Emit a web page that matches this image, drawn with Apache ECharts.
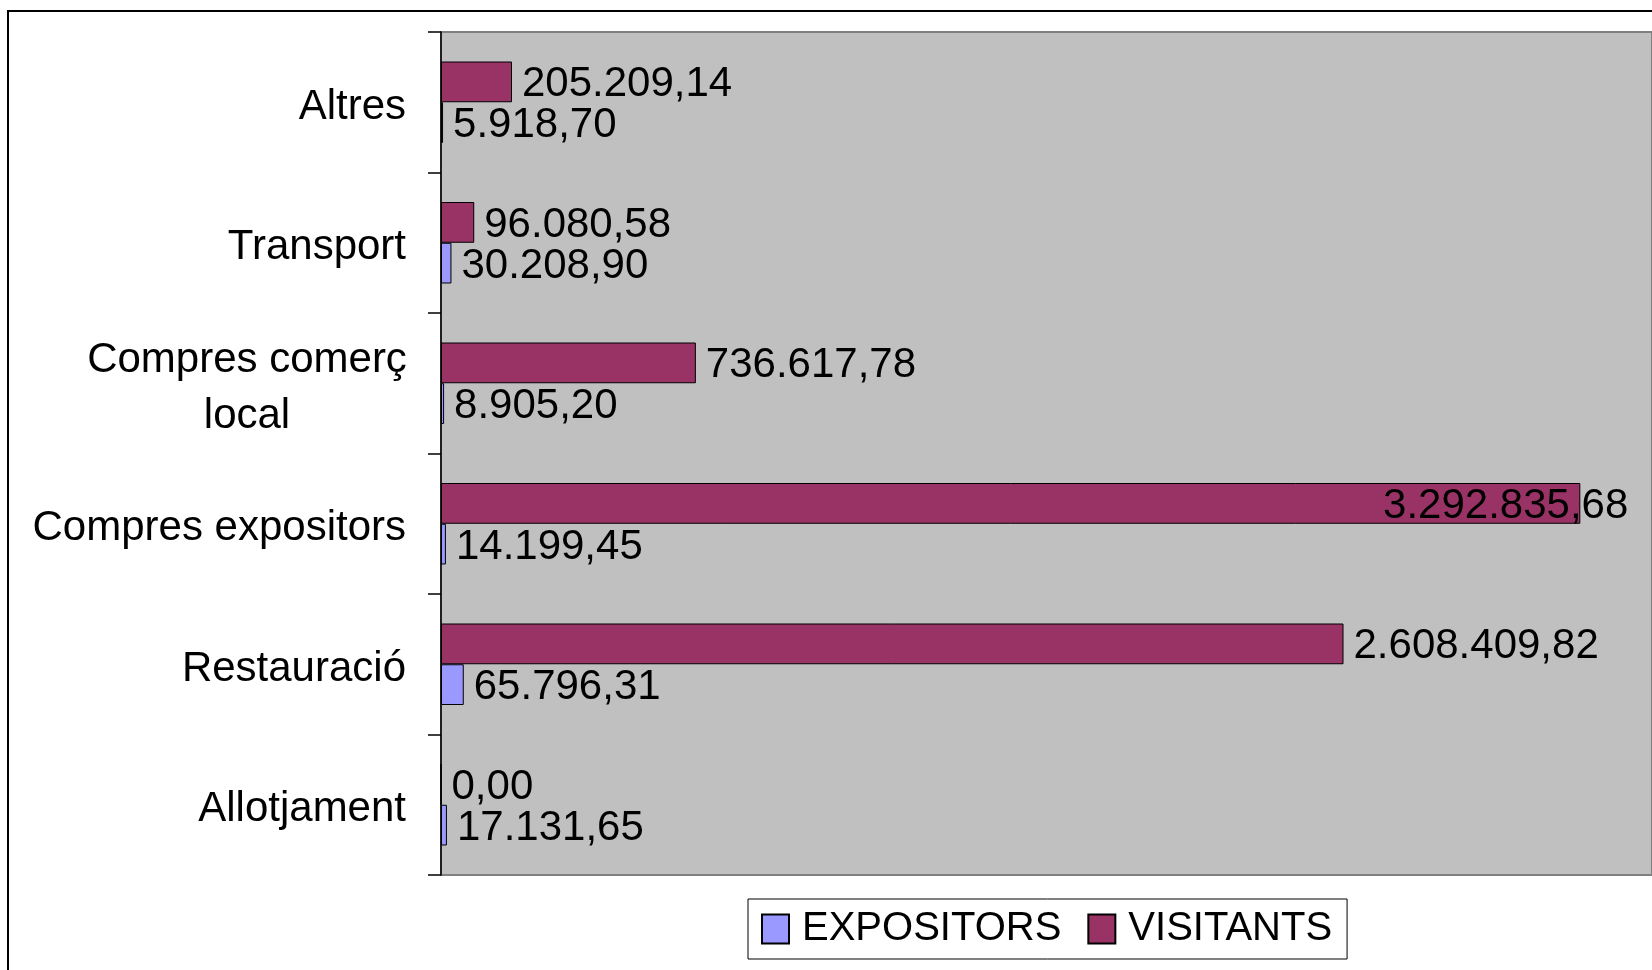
<!DOCTYPE html>
<html>
<head>
<meta charset="utf-8">
<title>Despesa expositors / visitants</title>
<script src="https://cdn.jsdelivr.net/npm/echarts@6/dist/echarts.min.js"></script>
<style>
    html, body { margin: 0; padding: 0; background: #fff; }
    #chart { width: 1652px; height: 970px; }
</style>
</head>
<body>
<div id="chart"></div>
<script>
// categories, de baix a dalt
var categories = ['Allotjament', 'Restauració', 'Compres expositors', 'Compres comerç\nlocal', 'Transport', 'Altres']
// EXPOSITORS
var expositors = [17131.65, 65796.31, 14199.45, 8905.20, 30208.90, 5918.70]
// VISITANTS
var visitants = [0, 2608409.82, 3292835.68, 736617.78, 96080.58, 205209.14]
var seriesNames = ['EXPOSITORS', 'VISITANTS']

var FONT = '"Liberation Sans", Arial, sans-serif'

// format 1.234.567,89
function fmtNum(v) {
    var parts = v.toFixed(2).split('.')
    parts[0] = parts[0].replace(/\B(?=(\d{3})+(?!\d))/g, '.')
    return parts[0] + ',' + parts[1]
}

// el valor més gran no cap a la dreta: l'etiqueta es desplaça cap a dins
var maxVis = Math.max.apply(null, visitants)
var visData = visitants.map(function(v) {
    if (v === maxVis) {
        return { value: v, label: { position: 'insideRight', distance: 0, offset: [48, 3] } }
    }
    return v
})

var labelStyle = {
    show: true,
    position: 'right',
    distance: 10,
    offset: [0, 3],
    color: '#000',
    fontFamily: FONT,
    fontSize: 42,
    formatter: function(p) { return fmtNum(p.value) }
}

var myChart = echarts.init(document.getElementById('chart'))
var option = {
    animation: false,
    backgroundColor: '#fff',
    graphic: [{
        type: 'rect',
        silent: true,
        z: -10,
        shape: { x: 8, y: 11, width: 2000, height: 2000 },
        style: { fill: 'none', stroke: '#000', lineWidth: 2 }
    }],
    grid: {
        left: 441,
        top: 32,
        right: -6,
        bottom: 95,
        show: true,
        backgroundColor: '#C0C0C0',
        borderColor: '#808080',
        borderWidth: 2
    },
    legend: {
        data: seriesNames,
        left: 748,
        top: 899,
        orient: 'horizontal',
        backgroundColor: '#fff',
        borderColor: '#000',
        borderWidth: 1,
        borderRadius: 0,
        padding: [10, 15, 10, 13],
        itemGap: 26,
        itemWidth: 27,
        itemHeight: 29,
        icon: 'rect',
        textStyle: {
            color: '#000',
            fontFamily: FONT,
            fontSize: 40,
            padding: [0, 0, 0, 8]
        }
    },
    xAxis: {
        type: 'value',
        min: 0,
        max: 3500000,
        axisLabel: { show: false },
        axisTick: { show: false },
        axisLine: { show: false },
        splitLine: { show: false }
    },
    yAxis: {
        type: 'category',
        data: categories,
        axisLine: { show: true, lineStyle: { color: '#000', width: 1.5 } },
        axisTick: { show: true, inside: false, length: 13, interval: 0, lineStyle: { color: '#000', width: 1.5 } },
        axisLabel: {
            margin: 35,
            color: '#000',
            fontFamily: FONT,
            fontSize: 42,
            lineHeight: 56,
            align: 'right',
            padding: [10, 0, 0, 0],
            interval: 0,
            // etiquetes de dues línies centrades
            formatter: function(v) {
                if (v.indexOf('\n') < 0) return v
                return v.split('\n').map(function(s) { return '{c|' + s + '}' }).join('\n')
            },
            rich: {
                c: { width: 318, align: 'center', fontFamily: FONT, fontSize: 42, lineHeight: 56, color: '#000' }
            }
        }
    },
    // VISITANTS a dalt, EXPOSITORS a baix dins de cada categoria
    series: [{
            name: 'VISITANTS',
            type: 'bar',
            data: visData,
            barGap: '0%',
            barCategoryGap: '42%',
            itemStyle: { color: '#993366', borderColor: '#000', borderWidth: 1 },
            label: labelStyle
        },
        {
            name: 'EXPOSITORS',
            type: 'bar',
            data: expositors,
            barGap: '0%',
            barCategoryGap: '42%',
            itemStyle: { color: '#9999FF', borderColor: '#000', borderWidth: 1 },
            label: labelStyle
        }
    ]
}
myChart.setOption(option)
</script>
</body>
</html>
